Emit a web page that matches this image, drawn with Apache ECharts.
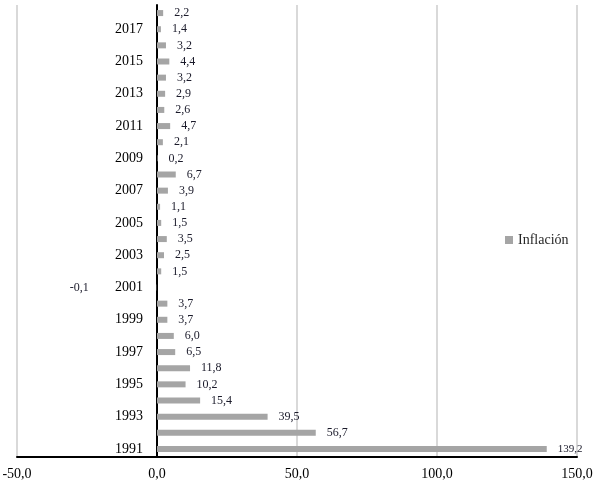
<!DOCTYPE html>
<html>
<head>
<meta charset="utf-8">
<script src="https://cdn.jsdelivr.net/npm/echarts@6/dist/echarts.min.js"></script>
<style>
  html, body { margin: 0; padding: 0; background: #fff; }
  #chart { width: 599px; height: 486px; }
</style>
</head>
<body>
<div id="chart"></div>
<script>
  // años, de abajo hacia arriba
  var years = ['1991', '1992', '1993', '1994', '1995', '1996', '1997', '1998', '1999', '2000',
    '2001', '2002', '2003', '2004', '2005', '2006', '2007', '2008', '2009', '2010',
    '2011', '2012', '2013', '2014', '2015', '2016', '2017', '2018']
  var inflacion = [139.2, 56.7, 39.5, 15.4, 10.2, 11.8, 6.5, 6.0, 3.7, 3.7,
    -0.1, 1.5, 2.5, 3.5, 1.5, 1.1, 3.9, 6.7, 0.2, 2.1,
    4.7, 2.6, 2.9, 3.2, 4.4, 3.2, 1.4, 2.2]
  var xTicks = [-50, 0, 50, 100, 150]

  var font = '"Liberation Serif", "DejaVu Serif", serif'
  var coma = function (v) { return Number(v).toFixed(1).replace('.', ',') }

  var chart = echarts.init(document.getElementById('chart'))

  var barData = inflacion.map(function (v) {
    var item = { value: v }
    if (v < 0) {
      item.label = { position: 'left', distance: 68 }
    }
    if (v > 100) {
      item.label = { fontSize: 11 }
    }
    return item
  })

  chart.setOption({
    animation: false,
    textStyle: { fontFamily: font },
    grid: { left: 17, right: 22, top: 5, bottom: 29, containLabel: false, outerBoundsMode: 'none' },
    legend: {
      data: ['Inflación'],
      left: 500, top: 228,
      itemWidth: 8, itemHeight: 8, itemGap: 4,
      icon: 'rect',
      textStyle: { fontFamily: font, fontSize: 14, color: '#262626' }
    },
    xAxis: {
      type: 'value',
      min: xTicks[0], max: xTicks[xTicks.length - 1], interval: 50,
      axisLine: { show: true, lineStyle: { color: '#000', width: 2 } },
      axisTick: { show: false },
      axisLabel: {
        formatter: coma, margin: 10,
        fontFamily: font, fontSize: 14, color: '#000'
      },
      splitLine: { show: true, lineStyle: { color: '#d9d9d9', width: 2 } }
    },
    yAxis: {
      type: 'category',
      data: years,
      axisLine: { show: true, onZero: true, lineStyle: { color: '#000', width: 2 } },
      axisTick: { show: false },
      axisLabel: {
        // las etiquetas no siguen al eje en x=0, se corren a mano
        interval: 1, margin: -126,
        fontFamily: font, fontSize: 14, color: '#000'
      },
      splitLine: { show: false }
    },
    series: [{
      name: 'Inflación',
      type: 'bar',
      data: barData,
      barWidth: 6,
      itemStyle: { color: '#a5a5a5' },
      label: {
        show: true,
        position: 'right',
        distance: 11,
        formatter: function (p) { return coma(p.value) },
        fontFamily: font, fontSize: 12, color: '#1a1a2a'
      }
    }]
  })
</script>
</body>
</html>
